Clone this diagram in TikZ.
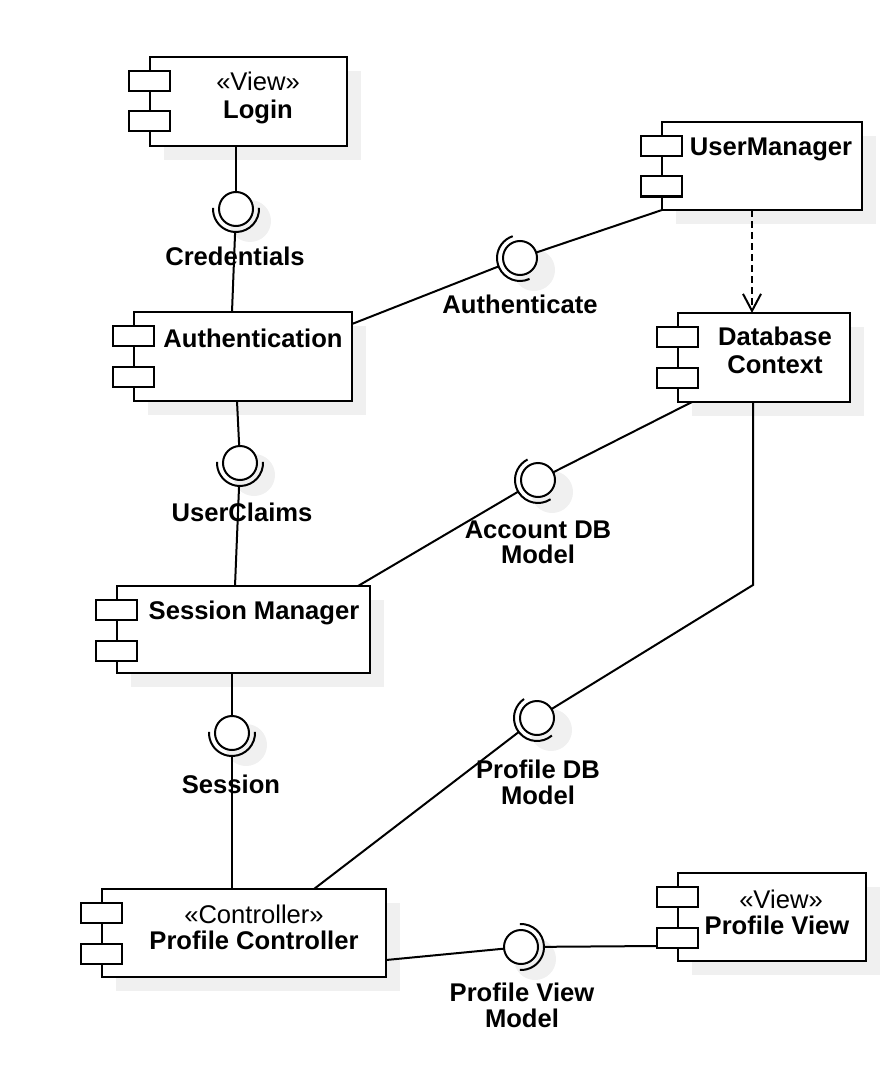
\documentclass[tikz,border=0pt]{standalone}
\usepackage{fontspec}
\setmainfont{Liberation Sans}
\usetikzlibrary{arrows.meta,backgrounds}
\definecolor{shadowc}{RGB}{240,240,240}
\tikzset{
  comp/.style={draw, line width=2pt, fill=white, rectangle, inner sep=0pt, outer sep=0pt},
  port/.style={draw, line width=2pt, fill=white},
  iface/.style={draw, line width=2pt, fill=white, circle, minimum size=34pt, inner sep=0pt, outer sep=0pt},
  sock/.style={circle, minimum size=46pt, inner sep=0pt, outer sep=0pt},
  arcln/.style={line width=2pt},
  conn/.style={line width=2pt},
  dep/.style={line width=2pt, dash pattern=on 7pt off 4pt, -{Straight Barb[length=17pt,width=18pt,line width=2pt]}},
  stereo/.style={font=\fontsize{25.6}{27}\selectfont, inner sep=0pt, anchor=base},
  cname/.style={font=\fontsize{25.6}{27}\selectfont\bfseries, inner sep=0pt, anchor=base},
}
\newcommand\compports[1]{%
  \draw[port] ([shift={(-21,14)}]#1.north west) rectangle ++(41,20);
  \draw[port] ([shift={(-21,54.5)}]#1.north west) rectangle ++(41,20);}
\newcommand\sockarc[2]{%
  \draw[arcln] (#1.center) ++(#2-93:23) arc[start angle=#2-93, end angle=#2+93, radius=23];}
\begin{document}
\begin{tikzpicture}[x=1pt,y=-1pt]
\useasboundingbox (0,0) rectangle (884,1086);

% components
\node[comp, minimum width=197pt, minimum height=89pt] (login) at (248.5,101.5) {};
\node[comp, minimum width=200pt, minimum height=88pt] (um) at (762,166) {};
\node[comp, minimum width=172pt, minimum height=89pt] (db) at (764,357.5) {};
\node[comp, minimum width=218pt, minimum height=89pt] (auth) at (243,356.5) {};
\node[comp, minimum width=253pt, minimum height=87pt] (sm) at (243.5,629.5) {};
\node[comp, minimum width=284pt, minimum height=88pt] (pc) at (244,933) {};
\node[comp, minimum width=188pt, minimum height=88pt] (pv) at (772,917) {};
\foreach \n in {login,um,db,auth,sm,pc,pv} {\compports{\n}}

% component texts
\node[stereo] (loginS) at (258,90.5) {«View»};
\node[cname] (loginN) at (258,118.5) {Login};
\node[cname] (umN) at (771,155.5) {UserManager};
\node[cname] (dbN1) at (775,345.5) {Database};
\node[cname] (dbN2) at (775,373.5) {Context};
\node[cname] (authN) at (253,347.5) {Authentication};
\node[cname] (smN) at (254,619.5) {Session Manager};
\node[stereo] (pcS) at (254,923.5) {«Controller»};
\node[cname] (pcN) at (254,949.5) {Profile Controller};
\node[stereo] (pvS) at (781,908) {«View»};
\node[cname] (pvN) at (777,934.5) {Profile View};

% interfaces
\node[iface] (cred) at (236,209) {};
\node[sock] (credS) at (cred) {};
\node[iface] (authI) at (520,258) {};
\node[sock] (authIS) at (authI) {};
\node[iface] (uc) at (240,463) {};
\node[sock] (ucS) at (uc) {};
\node[iface] (adb) at (538,480) {};
\node[sock] (adbS) at (adb) {};
\node[iface] (ses) at (232,733) {};
\node[sock] (sesS) at (ses) {};
\node[iface] (pdb) at (537,718) {};
\node[sock] (pdbS) at (pdb) {};
\node[iface] (pvm) at (521,947) {};
\node[sock] (pvmS) at (pvm) {};

\sockarc{cred}{90}
\sockarc{authI}{158.6}
\sockarc{uc}{90}
\sockarc{adb}{150}
\sockarc{ses}{90}
\sockarc{pdb}{142.7}
\sockarc{pvm}{0}

% interface labels
\node[cname] (credL) at (235,265.5) {Credentials};
\node[cname] (authIL) at (520,313.5) {Authenticate};
\node[cname] (ucL) at (242,521.5) {UserClaims};
\node[cname] (adbL1) at (538,538.5) {Account DB};
\node[cname] (adbL2) at (538,563.5) {Model};
\node[cname] (sesL) at (231,793.5) {Session};
\node[cname] (pdbL1) at (538,778.5) {Profile DB};
\node[cname] (pdbL2) at (538,804.5) {Model};
\node[cname] (pvmL1) at (522,1001.5) {Profile View};
\node[cname] (pvmL2) at (522,1027.5) {Model};

% connectors
\coordinate (bend) at (753,585);
\draw[conn] (cred |- login.south) -- (cred);
\draw[conn] (credS) -- ([shift={(-11,0)}]auth.north);
\draw[conn] (um.south west) -- (authI);
\draw[conn] (authIS) -- ([shift={(0,12)}]auth.north east);
\draw[conn] ([shift={(-6,0)}]auth.south) -- (uc);
\draw[conn] (ucS) -- ([shift={(-8.5,0)}]sm.north);
\draw[conn] ([shift={(14,0)}]db.south west) -- (adb);
\draw[conn] (adbS) -- ([shift={(-12,0)}]sm.north east);
\draw[conn] ([shift={(-11,0)}]db.south) -- (bend) -- (pdb);
\draw[conn] (pdbS) -- ([shift={(70,0)}]pc.north);
\draw[conn] ([shift={(-11.5,0)}]sm.south) -- (ses);
\draw[conn] (sesS) -- ([shift={(-12,0)}]pc.north);
\draw[conn] ([shift={(0,-17)}]pc.south east) -- (pvm);
\draw[conn] (pvmS) -- ([shift={(-21,-15)}]pv.south west);
\draw[dep] ([shift={(-10,0)}]um.south) -- ([shift={(-10,0)}]um.south |- db.north);

% shadows
\begin{pgfonlayer}{background}
\foreach \n in {login,um,db,auth,sm,pc,pv} {
  \fill[shadowc] ([shift={(14,14)}]\n.north west) rectangle ([shift={(14,14)}]\n.south east);
}
\foreach \n in {cred,authI,uc,adb,ses,pdb,pvm} {
  \fill[shadowc] ([shift={(14,12)}]\n.center) circle[radius=21];
}
\end{pgfonlayer}
\end{tikzpicture}
\end{document}
